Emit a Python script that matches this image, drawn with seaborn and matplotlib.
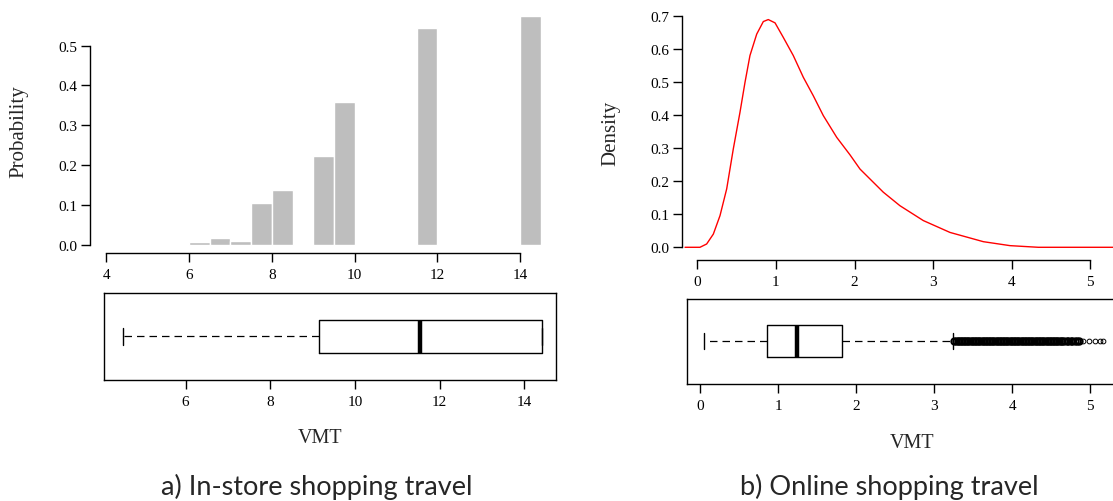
import matplotlib
matplotlib.use("Agg")
import matplotlib.pyplot as plt
import seaborn as sns

# ---- data -------------------------------------------------------------
# (a) in-store shopping travel: histogram of VMT (bin centres, bin width 0.5)
instore_bins = [6.25, 6.75, 7.25, 7.75, 8.25, 9.25, 9.75, 11.75, 14.25]
instore_prob = [0.006, 0.018, 0.010, 0.104, 0.137, 0.223, 0.358, 0.545, 0.575]
instore_xticks = [4, 6, 8, 10, 12, 14]
instore_box_xticks = [6, 8, 10, 12, 14]
instore_yticks = [0.0, 0.1, 0.2, 0.3, 0.4, 0.5]

# five-number summary of in-store VMT
instore_whislo, instore_q1, instore_med, instore_q3, instore_whishi = 4.51, 9.15, 11.53, 14.43, 14.43

# (b) online shopping travel: kernel density of VMT
online_x = [-0.156, 0.034, 0.119, 0.204, 0.289, 0.374, 0.458, 0.543, 0.607, 0.670,
            0.756, 0.840, 0.903, 0.989, 1.094, 1.221, 1.349, 1.476, 1.603, 1.774,
            1.943, 2.070, 2.366, 2.578, 2.875, 3.215, 3.639, 3.978, 4.338, 5.600]
online_density = [0.000, 0.000, 0.010, 0.040, 0.096, 0.177, 0.298, 0.409, 0.500, 0.581,
                  0.646, 0.684, 0.690, 0.680, 0.636, 0.581, 0.515, 0.459, 0.399, 0.333,
                  0.280, 0.237, 0.167, 0.126, 0.081, 0.045, 0.017, 0.005, 0.000, 0.000]
online_xticks = [0, 1, 2, 3, 4, 5]
online_yticks = [0.0, 0.1, 0.2, 0.3, 0.4, 0.5, 0.6, 0.7]

online_whislo, online_q1, online_med, online_q3, online_whishi = 0.044, 0.854, 1.242, 1.818, 3.24
# outlying trips beyond the upper whisker: a dense run, then a sparse tail
online_outliers_dense = [3.26, 3.28, 3.30, 3.32, 3.34, 3.36, 3.38, 3.40, 3.42, 3.44,
                         3.46, 3.48, 3.50, 3.52, 3.54, 3.56, 3.58, 3.60, 3.62, 3.64,
                         3.66, 3.68, 3.70, 3.72, 3.74, 3.76, 3.78, 3.80, 3.82, 3.84,
                         3.86, 3.88, 3.90, 3.92, 3.94, 3.96, 3.98, 4.00, 4.02, 4.04,
                         4.06, 4.08, 4.10, 4.12, 4.14, 4.16, 4.18, 4.20, 4.22, 4.24,
                         4.26, 4.28, 4.30, 4.32, 4.34, 4.36, 4.38, 4.40, 4.42, 4.44,
                         4.46, 4.48, 4.50, 4.52, 4.54, 4.56, 4.58, 4.60, 4.62, 4.64,
                         4.66, 4.70, 4.72, 4.75, 4.77, 4.81, 4.83, 4.86]
online_outliers_tail = [4.91, 4.98, 5.06, 5.12, 5.17]

# ---- styling ----------------------------------------------------------
sns.set_theme(style="ticks")
plt.rcParams["font.family"] = ["Liberation Serif", "DejaVu Serif"]
plt.rcParams["axes.linewidth"] = 1.0
plt.rcParams["axes.edgecolor"] = "black"

W, H = 1113, 502
fig = plt.figure(figsize=(W / 100, H / 100), dpi=100)
fig.patch.set_facecolor("white")


def px_rect(left, top, right, bottom):
    return [left / W, 1 - bottom / H, (right - left) / W, (bottom - top) / H]


def style_ticks(ax, pad_x=4.5, pad_y=2.5):
    ax.tick_params(axis="both", direction="out", length=6.5, width=1.0,
                   colors="black", labelsize=11)
    ax.tick_params(axis="x", pad=pad_x)
    ax.tick_params(axis="y", pad=pad_y)
    ax.set_facecolor("white")


LABEL_FONT = 15
BOX_W = 0.38

# ---- (a) histogram ----------------------------------------------------
ax_h = fig.add_axes(px_rect(90, 10, 560, 254))
sns.histplot(x=instore_bins, weights=instore_prob, binwidth=0.5, binrange=(6, 14.5),
             stat="count", color="#BEBEBE", edgecolor="white", linewidth=1.0,
             alpha=1.0, ax=ax_h)
ax_h.set_xlim(3.609, 14.96)
ax_h.set_ylim(-0.0209, 0.592)
ax_h.set_xticks(instore_xticks)
ax_h.set_yticks(instore_yticks)
ax_h.set_yticklabels([f"{v:.1f}" for v in instore_yticks])
ax_h.spines["bottom"].set_bounds(4, 14)
ax_h.spines["left"].set_bounds(0, 0.5)
for s in ("top", "right"):
    ax_h.spines[s].set_visible(False)
ax_h.set_xlabel("")
ax_h.set_ylabel("")
style_ticks(ax_h)

# ---- (a) boxplot ------------------------------------------------------
ax_hb = fig.add_axes(px_rect(104.3, 294, 556.4, 380.7))
box_kw = dict(
    orientation="horizontal", positions=[0.5], widths=[BOX_W], capwidths=[BOX_W * 0.5],
    manage_ticks=False, showfliers=True,
    boxprops=dict(color="black", lw=1.0),
    whiskerprops=dict(color="black", lw=0.9, linestyle=(0, (6, 4))),
    capprops=dict(color="black", lw=1.0),
    medianprops=dict(color="black", lw=3.2, solid_capstyle="butt"),
    flierprops=dict(marker="o", markersize=4.6, markerfacecolor="none",
                    markeredgecolor="black", markeredgewidth=1.4),
)
ax_hb.bxp([dict(whislo=instore_whislo, q1=instore_q1, med=instore_med,
                q3=instore_q3, whishi=instore_whishi, fliers=[])], **box_kw)
ax_hb.set_xlim(4.08, 14.76)
ax_hb.set_ylim(0, 1)
ax_hb.set_xticks(instore_box_xticks)
ax_hb.set_yticks([])
style_ticks(ax_hb)

# ---- (b) density ------------------------------------------------------
ax_d = fig.add_axes(px_rect(681.5, 10, 1137, 260.5))
sns.lineplot(x=online_x, y=online_density, color="#FF0000", lw=1.0,
             estimator=None, ax=ax_d)
ax_d.set_xlim(-0.201, 5.594)
ax_d.set_ylim(-0.037, 0.722)
ax_d.set_xticks(online_xticks)
ax_d.set_yticks(online_yticks)
ax_d.set_yticklabels([f"{v:.1f}" for v in online_yticks])
ax_d.spines["bottom"].set_bounds(0, 5)
ax_d.spines["left"].set_bounds(0, 0.7)
for s in ("top", "right"):
    ax_d.spines[s].set_visible(False)
ax_d.set_xlabel("")
ax_d.set_ylabel("")
style_ticks(ax_d)

# ---- (b) boxplot ------------------------------------------------------
ax_db = fig.add_axes(px_rect(687, 299.5, 1137, 385))
ax_db.bxp([dict(whislo=online_whislo, q1=online_q1, med=online_med,
                q3=online_q3, whishi=online_whishi, fliers=online_outliers_dense)], **box_kw)
# sparse tail of outliers drawn with thinner open symbols
ax_db.plot(online_outliers_tail, [0.5] * len(online_outliers_tail), linestyle="none",
           marker="o", markersize=3.4, markerfacecolor="none",
           markeredgecolor="black", markeredgewidth=0.7)
ax_db.set_xlim(-0.168, 5.60)
ax_db.set_ylim(0, 1)
ax_db.set_xticks(online_xticks)
ax_db.set_yticks([])
style_ticks(ax_db)

# ---- axis titles and captions ----------------------------------------
def fig_text(x, y, s, **kw):
    fig.text(x / W, 1 - y / H, s, **kw)


fig_text(19, 132, "Probability", rotation=90, ha="center", va="center", fontsize=LABEL_FONT)
fig_text(610.5, 133, "Density", rotation=90, ha="center", va="center", fontsize=LABEL_FONT)
fig_text(320.5, 443.3, "VMT", ha="center", va="baseline", fontsize=14.5)
fig_text(912, 448, "VMT", ha="center", va="baseline", fontsize=14.5)

cap_kw = dict(ha="center", va="baseline", fontsize=19.5, family=["Lato", "DejaVu Sans"])
fig_text(316.5, 495, "a) In-store shopping travel", **cap_kw)
fig_text(889, 495, "b) Online shopping travel", **cap_kw)

fig.savefig("out.png", dpi=100, facecolor="white")
